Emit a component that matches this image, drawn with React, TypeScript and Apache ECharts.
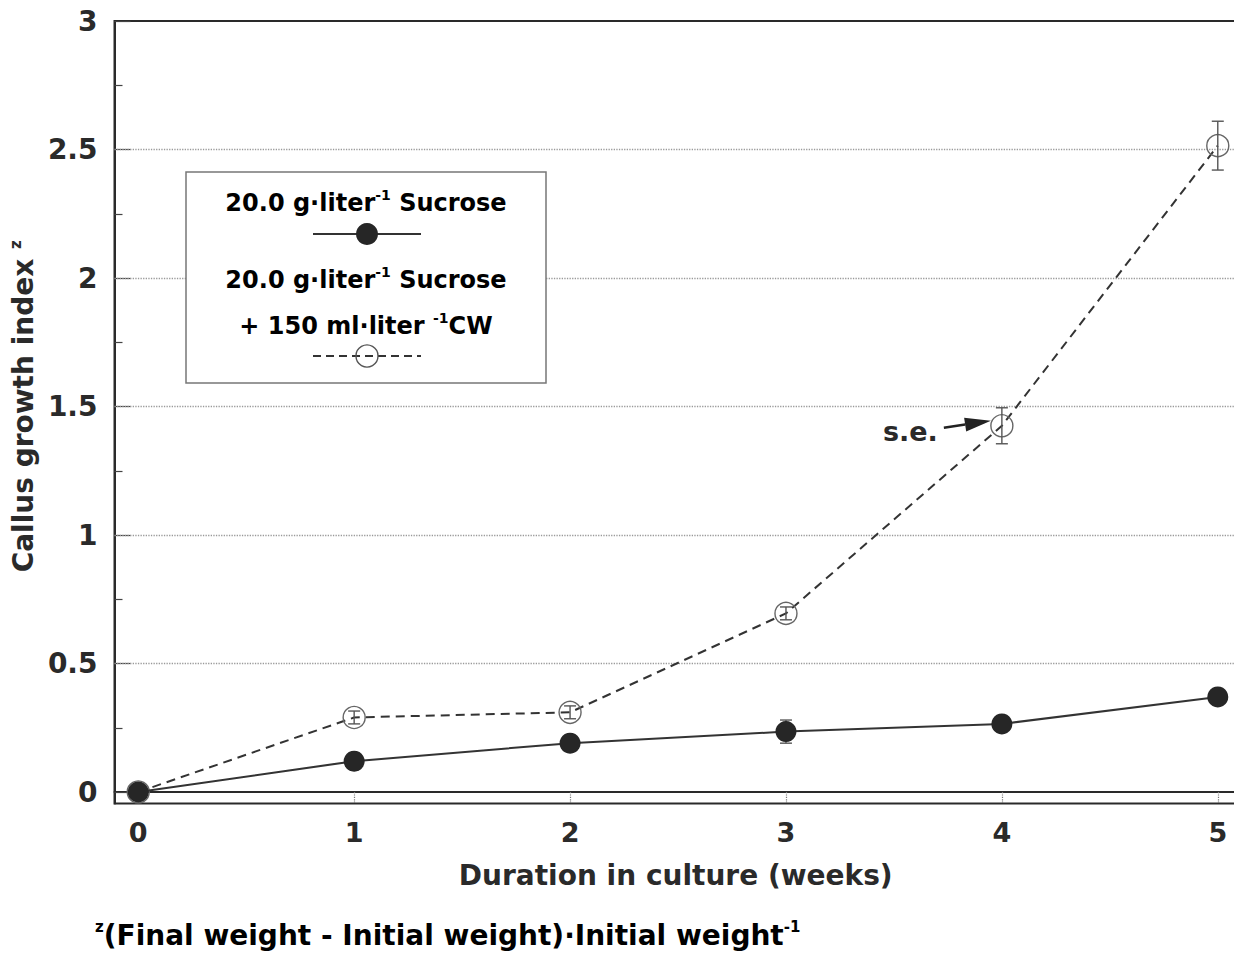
import React, { useEffect, useRef } from "react";
import * as echarts from "echarts";

const weeks = [0, 1, 2, 3, 4, 5];
const sucrose = [0, 0.12, 0.19, 0.235, 0.265, 0.37];
const sucroseSE = [0, 0.03, 0.015, 0.045, 0.02, 0.02];
const sucroseCW = [0, 0.29, 0.31, 0.695, 1.425, 2.515];
const sucroseCWSE = [0, 0.025, 0.025, 0.025, 0.07, 0.095];
const xTicks = [0, 1, 2, 3, 4, 5];
const yTicks = [0, 0.5, 1, 1.5, 2, 2.5, 3];
const yMinorTicks = [0.25, 0.75, 1.25, 1.75, 2.25, 2.75];
const gridValues = [0.5, 1, 1.5, 2, 2.5];

const FONT = "'DejaVu Sans', 'Liberation Sans', Arial, sans-serif";
const INK = "#2a2a2a";

export default function App() {
  const ref = useRef<HTMLDivElement>(null);
  useEffect(() => {
    if (!ref.current) return;
    document.body.style.overflow = "hidden";
    const chart = echarts.init(ref.current, null, { renderer: "svg" });

    const errData = (m: number[], se: number[]) =>
      weeks.map((w, i) => [w, m[i] - se[i], m[i] + se[i]]);

    const errRender = (params: any, api: any) => {
      const x = api.value(0);
      const lo = api.value(1);
      const hi = api.value(2);
      if (hi - lo <= 0) return null;
      const p1 = api.coord([x, hi]);
      const p2 = api.coord([x, lo]);
      const w = 6;
      const st = { stroke: "#555", lineWidth: 1.4 };
      return {
        type: "group",
        children: [
          { type: "line", shape: { x1: p1[0], y1: p1[1], x2: p2[0], y2: p2[1] }, style: st },
          { type: "line", shape: { x1: p1[0] - w, y1: p1[1], x2: p1[0] + w, y2: p1[1] }, style: st },
          { type: "line", shape: { x1: p2[0] - w, y1: p2[1], x2: p2[0] + w, y2: p2[1] }, style: st },
        ],
      };
    };

    const sup = { fontFamily: FONT, fontWeight: "bold", fontSize: 15, color: INK, verticalAlign: "top", lineHeight: 30 };

    chart.setOption({
      animation: false,
      backgroundColor: "#ffffff",
      grid: {
        left: 114,
        top: 21,
        width: 5.31 * 216,
        height: 3.045 * 257,
        show: true,
        borderColor: INK,
        borderWidth: 2,
        backgroundColor: "transparent",
      },
      xAxis: {
        type: "value",
        min: -0.11,
        max: 5.2,
        axisLine: { show: true, onZero: true, lineStyle: { color: INK, width: 2 } },
        axisTick: {
          show: true,
          customValues: xTicks,
          length: 11,
          lineStyle: { color: "#777", type: "dotted", width: 1.2 },
        },
        axisLabel: {
          customValues: xTicks,
          margin: 15,
          fontFamily: FONT,
          fontWeight: "bold",
          fontSize: 27,
          color: INK,
        },
        splitLine: { show: false },
        name: "Duration in culture (weeks)",
        nameLocation: "middle",
        nameGap: 58,
        nameTextStyle: {
          fontFamily: FONT,
          fontWeight: "bold",
          fontSize: 28,
          color: INK,
          padding: [0, 24, 0, 0],
        },
      },
      yAxis: [
        {
          type: "value",
          min: -0.045,
          max: 3,
          axisLine: { show: true, onZero: false, lineStyle: { color: INK, width: 2 } },
          axisTick: {
            show: true,
            inside: true,
            customValues: yTicks,
            length: 16,
            lineStyle: { color: "#444", width: 1.2 },
          },
          axisLabel: {
            customValues: yTicks,
            margin: 17,
            fontFamily: FONT,
            fontWeight: "bold",
            fontSize: 28,
            color: INK,
            formatter: (v: number) => String(v),
          },
          splitLine: { show: false },
          name: "{a|Callus growth index }{s|z}",
          nameLocation: "middle",
          nameGap: 66,
          nameTextStyle: {
            padding: [0, 0, 0, 12],
            rich: {
              a: { fontFamily: FONT, fontWeight: "bold", fontSize: 28, color: INK, lineHeight: 30 },
              s: sup,
            },
          },
        },
        {
          type: "value",
          min: -0.045,
          max: 3,
          position: "left",
          axisLine: { show: false, onZero: false },
          axisTick: {
            show: true,
            inside: true,
            customValues: yMinorTicks,
            length: 8,
            lineStyle: { color: "#444", width: 1.2 },
          },
          axisLabel: { show: false },
          splitLine: { show: false },
        },
      ],
      series: [
        {
          type: "line",
          name: "20.0 g·liter-1 Sucrose + 150 ml·liter-1 CW",
          data: weeks.map((w, i) => [w, sucroseCW[i]]),
          symbol: "circle",
          symbolSize: 22,
          lineStyle: { color: "#333", width: 2, type: [9, 6] },
          itemStyle: { color: "rgba(255,255,255,0)", borderColor: "#666", borderWidth: 1.4 },
          z: 3,
          markLine: {
            silent: true,
            symbol: "none",
            label: { show: false },
            lineStyle: { color: "#9a9a9a", type: "dotted", width: 1.3 },
            data: gridValues.map((v) => ({ yAxis: v })),
            z: 1,
          },
        },
        {
          type: "line",
          name: "20.0 g·liter-1 Sucrose",
          data: weeks.map((w, i) => [w, sucrose[i]]),
          symbol: "circle",
          symbolSize: 21,
          lineStyle: { color: "#333", width: 2 },
          itemStyle: { color: "#262626" },
          z: 4,
        },
        {
          type: "custom",
          name: "se CW",
          renderItem: errRender,
          data: errData(sucroseCW, sucroseCWSE),
          z: 5,
        },
        {
          type: "custom",
          name: "se sucrose",
          renderItem: errRender,
          data: errData(sucrose, sucroseSE),
          z: 2,
        },
      ],
    });

    const p = chart.convertToPixel({ xAxisIndex: 0, yAxisIndex: 0 }, [4, sucroseCW[4]]) as number[];
    const tip = [p[0] - 11, p[1] - 5];
    const tail = [p[0] - 58, p[1] + 2];
    const dx = tip[0] - tail[0];
    const dy = tip[1] - tail[1];
    const len = Math.sqrt(dx * dx + dy * dy);
    const ux = dx / len;
    const uy = dy / len;
    const hl = 26;
    const hw = 7;
    const bc = [tip[0] - ux * hl, tip[1] - uy * hl];
    const head = [
      [tip[0], tip[1]],
      [bc[0] - uy * hw, bc[1] + ux * hw],
      [bc[0] + uy * hw, bc[1] - ux * hw],
    ];

    const legText = (text: string, y: number) => ({
      type: "text",
      x: 366,
      y,
      style: {
        text,
        align: "center",
        verticalAlign: "middle",
        rich: {
          a: { fontFamily: FONT, fontWeight: "bold", fontSize: 24, color: INK, lineHeight: 30 },
          s: { ...sup, fontSize: 14 },
        },
      },
    });

    chart.setOption({
      graphic: [
        {
          type: "rect",
          shape: { x: 186, y: 172, width: 360, height: 211 },
          style: { fill: "#ffffff", stroke: "#777", lineWidth: 1.5 },
          z: 10,
        },
        { ...legText("{a|20.0 g·liter}{s|-1}{a| Sucrose}", 203), z: 11 },
        {
          type: "line",
          shape: { x1: 313, y1: 234, x2: 421, y2: 234 },
          style: { stroke: "#333", lineWidth: 2 },
          z: 11,
        },
        { type: "circle", shape: { cx: 367, cy: 234, r: 11 }, style: { fill: "#262626" }, z: 12 },
        { ...legText("{a|20.0 g·liter}{s|-1}{a| Sucrose}", 280), z: 11 },
        { ...legText("{a|+ 150 ml·liter }{s|-1}{a|CW}", 326), z: 11 },
        {
          type: "line",
          shape: { x1: 313, y1: 356, x2: 421, y2: 356 },
          style: { stroke: "#333", lineWidth: 2, lineDash: [8, 5] },
          z: 11,
        },
        {
          type: "circle",
          shape: { cx: 367, cy: 356, r: 11 },
          style: { fill: "rgba(255,255,255,0)", stroke: "#555", lineWidth: 1.4 },
          z: 12,
        },
        {
          type: "line",
          shape: { x1: tail[0], y1: tail[1], x2: bc[0], y2: bc[1] },
          style: { stroke: "#222", lineWidth: 2.5 },
          z: 11,
        },
        { type: "polygon", shape: { points: head }, style: { fill: "#222" }, z: 11 },
        {
          type: "text",
          x: p[0] - 64,
          y: p[1] + 6,
          style: {
            text: "s.e.",
            align: "right",
            verticalAlign: "middle",
            fontFamily: FONT,
            fontWeight: "bold",
            fontSize: 27,
            fill: INK,
          },
          z: 11,
        },
        {
          type: "text",
          x: 95,
          y: 935,
          style: {
            text: "{s|z}{a|(Final weight - Initial weight)·Initial weight}{s|-1}",
            align: "left",
            verticalAlign: "middle",
            rich: {
              a: { fontFamily: FONT, fontWeight: "bold", fontSize: 28, color: INK, lineHeight: 32 },
              s: { ...sup, lineHeight: 32 },
            },
          },
          z: 11,
        },
      ],
    });

    return () => chart.dispose();
  }, []);

  return (
    <div
      ref={ref}
      style={{ position: "fixed", left: 0, top: 0, width: 1264, height: 954, background: "#fff" }}
    />
  );
}
